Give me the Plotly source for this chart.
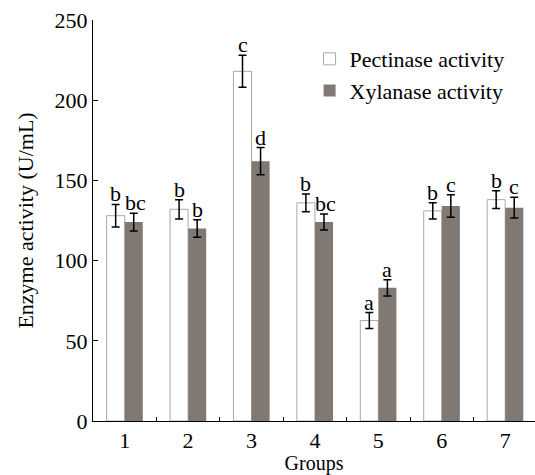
import plotly.graph_objects as go

groups = ["1", "2", "3", "4", "5", "6", "7"]
pectinase = [128, 132, 218, 136, 62.6, 131, 138]
pectinase_err = [7, 6, 10, 5.5, 5, 5, 5.5]
xylanase = [124, 120, 162, 124, 83, 134, 133]
xylanase_err = [5.5, 5.5, 8.5, 5, 5, 7, 6.5]
pect_letters = ["b", "b", "c", "b", "a", "b", "b"]
xyl_letters = ["bc", "b", "d", "bc", "a", "c", "c"]

FONT = "Times New Roman, Liberation Serif, serif"
GRAY = "#7f7873"
FS = 22

fig = go.Figure()
fig.add_trace(go.Bar(
    x=groups, y=pectinase, name="Pectinase activity",
    marker=dict(color="white", line=dict(color="#a8a8a8", width=1)),
    error_y=dict(type="data", array=pectinase_err, color="black", thickness=1.5, width=4),
))
fig.add_trace(go.Bar(
    x=groups, y=xylanase, name="Xylanase activity",
    marker=dict(color=GRAY, line=dict(color=GRAY, width=0)),
    error_y=dict(type="data", array=xylanase_err, color="black", thickness=1.5, width=4),
))

for i, (v, e, t) in enumerate(zip(pectinase, pectinase_err, pect_letters)):
    fig.add_annotation(x=i, y=v + e, text=t, showarrow=False, xshift=-9, yshift=-4,
                       yanchor="bottom", font=dict(family=FONT, size=FS, color="black"))
for i, (v, e, t) in enumerate(zip(xylanase, xylanase_err, xyl_letters)):
    fig.add_annotation(x=i, y=v + e, text=t, showarrow=False, xshift=9 + (2 if len(t) > 1 else 0), yshift=-4,
                       yanchor="bottom", font=dict(family=FONT, size=FS, color="black"))

fig.update_layout(
    width=535, height=475,
    margin=dict(l=93, r=0, t=20, b=54),
    paper_bgcolor="white", plot_bgcolor="white",
    barmode="group", bargap=0.43, bargroupgap=0,
    font=dict(family=FONT, size=FS, color="black"),
    legend=dict(x=0.49, y=0.955, xanchor="left", yanchor="top",
                bgcolor="rgba(0,0,0,0)", font=dict(family=FONT, size=FS),
                itemwidth=30, tracegroupgap=0),
    xaxis=dict(
        type="category", range=[-0.5, 6.47],
        showline=True, linecolor="black", linewidth=1,
        ticks="inside", tickson="boundaries", ticklen=4, tickcolor="black",
        showgrid=False, zeroline=False,
        title=dict(text="Groups", font=dict(family=FONT, size=20), standoff=3),
        tickfont=dict(family=FONT, size=FS),
    ),
    yaxis=dict(
        range=[0, 250], tickvals=[0, 50, 100, 150, 200, 250],
        showline=True, linecolor="black", linewidth=1,
        ticks="inside", ticklen=5, tickcolor="black",
        showgrid=False, zeroline=False,
        title=dict(text="Enzyme activity (U/mL)", font=dict(family=FONT, size=FS), standoff=14),
        tickfont=dict(family=FONT, size=FS),
    ),
)

fig.write_html("out.html")
